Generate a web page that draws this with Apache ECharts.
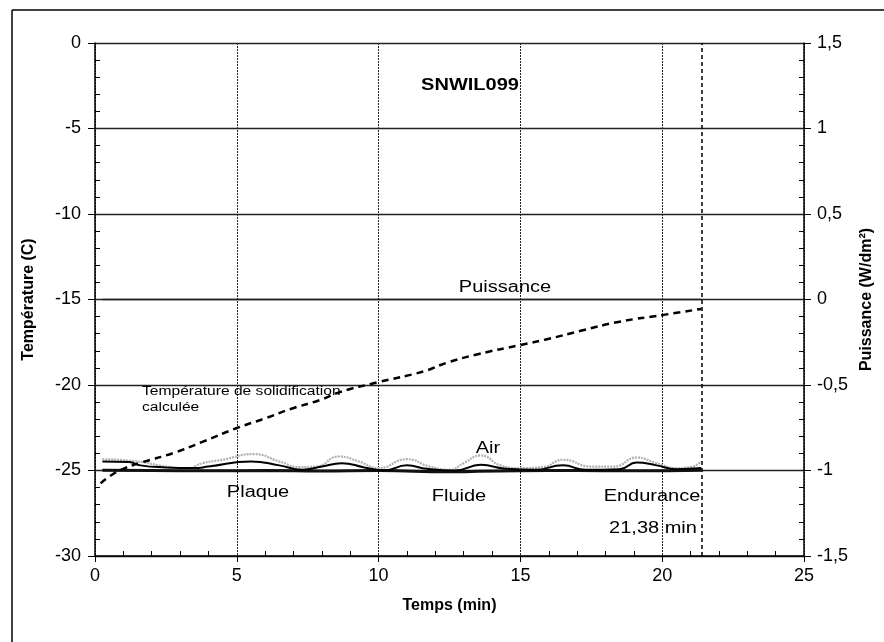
<!DOCTYPE html>
<html>
<head>
<meta charset="utf-8">
<script src="https://cdn.jsdelivr.net/npm/echarts@6/dist/echarts.min.js"></script>
<style>html,body{margin:0;padding:0;background:#fff}#c{width:884px;height:642px}</style>
</head>
<body>
<div id="c"></div>
<script>
// Temps (min), Température (C)
const solidT = [0.2,0.55,1.0,1.6,2.78,3.83,4.98,6.0,6.9,7.95,8.66,9.95,11.6,12.4,13.5,15.0,16.0,17.2,18.5,20.05,21.38];
const solidV = [-25.75,-25.3,-24.9,-24.55,-23.97,-23.3,-22.53,-21.95,-21.4,-20.87,-20.4,-19.85,-19.2,-18.7,-18.2,-17.66,-17.3,-16.8,-16.3,-15.9,-15.55];

const airT = [0.26,1.5,2.5,3.2,3.8,4.5,5.6,6.5,7.2,7.8,8.6,9.3,10.0,11.0,11.8,12.5,13.0,13.6,14.3,15.0,15.8,16.5,17.5,18.3,19.1,19.8,20.5,21.0,21.38];
const airV = [-24.34,-24.47,-24.77,-24.9,-24.57,-24.37,-24.04,-24.47,-24.8,-24.77,-24.18,-24.47,-24.86,-24.34,-24.77,-24.96,-24.57,-24.12,-24.7,-24.86,-24.8,-24.37,-24.77,-24.77,-24.24,-24.57,-24.86,-24.8,-24.47];

const plaqueT = [0.26,1.2,1.6,2.5,3.5,4.0,5.5,6.5,7.3,8.0,8.7,9.5,10.2,11.0,11.7,12.7,13.6,14.5,15.5,16.5,17.3,18.5,19.1,19.8,20.5,21.38];
const plaqueV = [-24.47,-24.5,-24.7,-24.82,-24.86,-24.77,-24.47,-24.7,-24.96,-24.77,-24.57,-24.82,-25.0,-24.7,-24.9,-25.0,-24.67,-24.9,-24.96,-24.7,-24.96,-24.92,-24.53,-24.7,-24.92,-24.86];

const fluideT = [0.26,2.0,4.0,6.0,8.0,10.0,12.5,13.5,15.0,17.0,19.0,21.38];
const fluideV = [-24.98,-25.0,-25.02,-25.0,-25.03,-25.0,-25.08,-25.05,-25.02,-25.0,-25.02,-24.98];

// Puissance (W/dm²)
const puisT = [0.26,21.38];
const puisV = [0,0];

const endurance = 21.38;

const xTicks = {min:0,max:25,interval:5};
const yLeft = {min:-30,max:0,interval:5};
const yRight = {min:-1.5,max:1.5,interval:0.5};

const zip = (a,b) => a.map((v,i)=>[v,b[i]]);
const FONT = '"Liberation Sans", Arial, sans-serif';
const comma = v => String(v).replace('.', ',');

function txt(x, y, s, size, opts) {
  opts = opts || {};
  return {type:'text', x:x, y:y, scaleX:opts.sx || 1.25, z:10,
    style:{text:s, font:(opts.bold?'bold ':'')+size+'px '+FONT, fill:'#000',
      textAlign:opts.align || 'center', textVerticalAlign:'middle'}};
}

const chart = echarts.init(document.getElementById('c'), null, {renderer:'canvas'});
chart.setOption({
  animation:false,
  backgroundColor:'#fff',
  grid:{left:95,right:80,top:43,bottom:86,containLabel:false},
  xAxis:{
    type:'value', min:xTicks.min, max:xTicks.max, interval:xTicks.interval,
    name:'Temps (min)', nameLocation:'middle', nameGap:42,
    nameTextStyle:{fontFamily:FONT,fontSize:16,fontWeight:'bold',color:'#000'},
    axisLine:{show:true,onZero:false,lineStyle:{color:'#000',width:1.5}},
    axisTick:{show:true,inside:false,length:6,lineStyle:{color:'#000',width:1}},
    minorTick:{show:true,splitNumber:5,length:-5,lineStyle:{color:'#000',width:1}},
    axisLabel:{fontFamily:FONT,fontSize:18,color:'#000',margin:11},
    splitLine:{show:true,lineStyle:{color:'#222',width:1,type:[2,1]}}
  },
  yAxis:[{
    type:'value', min:yLeft.min, max:yLeft.max, interval:yLeft.interval, position:'left',
    name:'Température (C)', nameLocation:'middle', nameGap:58, nameRotate:90,
    nameTextStyle:{fontFamily:FONT,fontSize:16,fontWeight:'bold',color:'#000'},
    axisLine:{show:true,lineStyle:{color:'#000',width:1.5}},
    axisTick:{show:true,inside:false,length:7,lineStyle:{color:'#000',width:1}},
    minorTick:{show:true,splitNumber:5,length:-5,lineStyle:{color:'#000',width:1}},
    axisLabel:{fontFamily:FONT,fontSize:18,color:'#000',margin:14},
    splitLine:{show:true,lineStyle:{color:'#222',width:1.3}}
  },{
    type:'value', min:yRight.min, max:yRight.max, interval:yRight.interval, position:'right',
    name:'Puissance (W/dm²)', nameLocation:'middle', nameGap:52, nameRotate:90,
    nameTextStyle:{fontFamily:FONT,fontSize:16,fontWeight:'bold',color:'#000'},
    axisLine:{show:true,lineStyle:{color:'#000',width:1.5}},
    axisTick:{show:true,inside:false,length:7,lineStyle:{color:'#000',width:1}},
    minorTick:{show:true,splitNumber:5,length:-5,lineStyle:{color:'#000',width:1}},
    axisLabel:{fontFamily:FONT,fontSize:18,color:'#000',margin:13,formatter:comma},
    splitLine:{show:false}
  }],
  series:[
    {name:'Puissance',type:'line',yAxisIndex:1,data:zip(puisT,puisV),symbol:'none',
     lineStyle:{color:'#222',width:1.3}},
    {name:'Air',type:'line',data:zip(airT,airV),symbol:'none',smooth:true,
     lineStyle:{color:'#b0b0b0',width:2.2,type:[2,1]}},
    {name:'Fluide',type:'line',data:zip(fluideT,fluideV),symbol:'none',smooth:true,
     lineStyle:{color:'#111',width:3}},
    {name:'Plaque',type:'line',data:zip(plaqueT,plaqueV),symbol:'none',smooth:true,
     lineStyle:{color:'#000',width:2}},
    {name:'Température de solidification calculée',type:'line',data:zip(solidT,solidV),symbol:'none',smooth:true,
     lineStyle:{color:'#000',width:2.5,type:[7,5]},
     markLine:{silent:true,symbol:'none',label:{show:false},
       lineStyle:{color:'#000',width:1.5,type:[4,3]},
       data:[{xAxis:endurance}]}}
  ],
  graphic:[
    {type:'line',shape:{x1:12,y1:10,x2:884,y2:10},style:{stroke:'#000',lineWidth:1.5}},
    {type:'line',shape:{x1:12,y1:10,x2:12,y2:642},style:{stroke:'#000',lineWidth:1.5}},
    txt(470, 86, 'SNWIL099', 16, {bold:true}),
    txt(505, 288, 'Puissance', 16),
    txt(142, 392, 'Température de solidification', 12, {align:'left', sx:1.3}),
    txt(142, 408, 'calculée', 12, {align:'left', sx:1.3}),
    txt(488, 449, 'Air', 16),
    txt(258, 493, 'Plaque', 16),
    txt(459, 497, 'Fluide', 16),
    txt(652, 497, 'Endurance', 16),
    txt(653, 529, '21,38 min', 16)
  ]
});
</script>
</body>
</html>
